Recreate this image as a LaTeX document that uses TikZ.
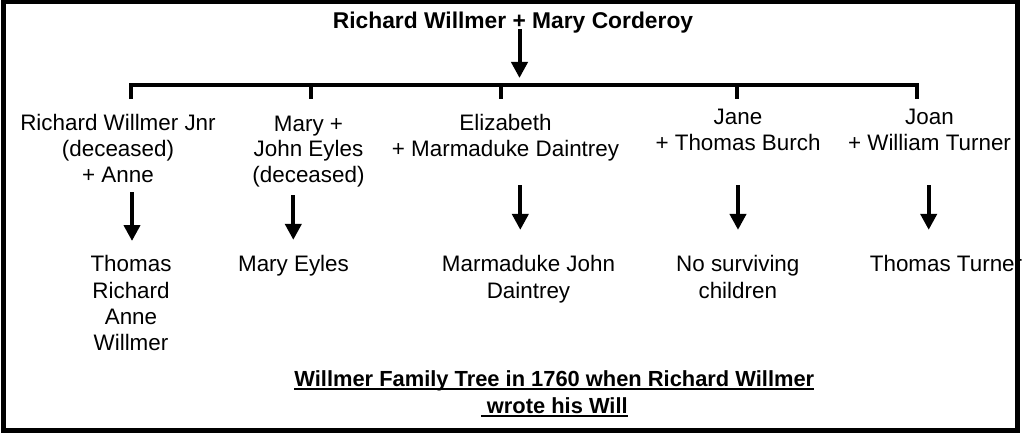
\documentclass[tikz,border=0pt]{standalone}
\usepackage{fontspec}
\setmainfont{Liberation Sans}
\usepackage{tikz}
\usetikzlibrary{arrows.meta}

\newcommand{\ulined}[1]{\setbox0\hbox{#1}\rlap{\rule[-0.16em]{\wd0}{0.085em}}\box0}

\begin{document}
\begin{tikzpicture}[x=0.75pt,y=0.75pt,yscale=-1,
  lbl/.style={anchor=base,inner sep=0pt,align=center,font=\fontsize{16.8}{19.2}\selectfont},
  kidlbl/.style={lbl,font=\fontsize{16.8}{19.7}\selectfont},
  boldlbl/.style={lbl,font=\fontsize{17.1}{19.6}\selectfont\bfseries},
  stem/.style={line width=3pt},
  arr/.style={line width=3pt,-{Triangle[width=12pt,length=12pt]}}]
\useasboundingbox (0,0) rectangle (1024,435);

% Text Node
\draw (513,28.5) node (top) [boldlbl] {Richard Willmer + Mary Corderoy};

%Straight Lines
\coordinate (t0) at (519.5,29);
\coordinate (b1) at (130.5,85);
\coordinate (b2) at (310.5,85);
\coordinate (b3) at (500.5,85);
\coordinate (b4) at (737,85);
\coordinate (b5) at (917,85);
\draw [arr,shorten >=5.25pt] (t0) -- (t0 |- b1);
\draw [stem] (b1) ++(0,14) -- (b1) -- (b5) -- ++(0,14);
\foreach \k in {2,3,4} \draw [stem] (b\k) -- ++(0,14);

% Text Node
\draw (118,182) node (p1) [lbl] {Richard Willmer Jnr\\(deceased)\\+ Anne};
% Text Node
\draw (308.5,182.5) node (p2) [lbl] {Mary +\\John Eyles\\(deceased)};
% Text Node
\draw (505.5,156.5) node (p3) [lbl] {Elizabeth\\+ Marmaduke Daintrey};
% Text Node
\draw (738,150.5) node (p4) [lbl] {Jane\\+ Thomas Burch};
% Text Node
\draw (929.5,150.5) node (p5) [lbl] {Joan\\+ William Turner};

% Text Node
\draw (131,350.7) node (k1) [kidlbl] {Thomas\\Richard\\Anne\\Willmer};
% Text Node
\draw (293.5,271.7) node (k2) [kidlbl] {Mary Eyles};
% Text Node
\draw (528.5,298) node (k3) [kidlbl] {Marmaduke John\\Daintrey};
% Text Node
\draw (737.8,298) node (k4) [kidlbl] {No surviving\\children};
% Text Node
\draw (946,271.7) node (k5) [kidlbl] {Thomas Turner};

%Straight Lines
\coordinate (s1) at (132,192);
\coordinate (s2) at (293.3,195);
\coordinate (s3) at (520.3,185);
\coordinate (s4) at (738,185);
\coordinate (s5) at (928.7,185);
\draw [arr,shorten >=10.8pt] (s1) -- (s1 |- k1.north);
\draw [arr,shorten >=11.5pt] (s2) -- (s2 |- k2.north);
\draw [arr,shorten >=19pt] (s3) -- (s3 |- k3.north);
\draw [arr,shorten >=19pt] (s4) -- (s4 |- k4.north);
\draw [arr,shorten >=19pt] (s5) -- (s5 |- k5.north);

% Text Node
\draw (554.3,413.3) node (cap) [boldlbl,font=\fontsize{16.4}{20}\selectfont\bfseries] {\ulined{Willmer Family Tree in 1760 when Richard Willmer}\\\ulined{\ wrote his Will}};

%Shape: Rectangle
\draw [line width=3.75pt] (3.5,2) rectangle (1017,430);

\end{tikzpicture}
\end{document}
